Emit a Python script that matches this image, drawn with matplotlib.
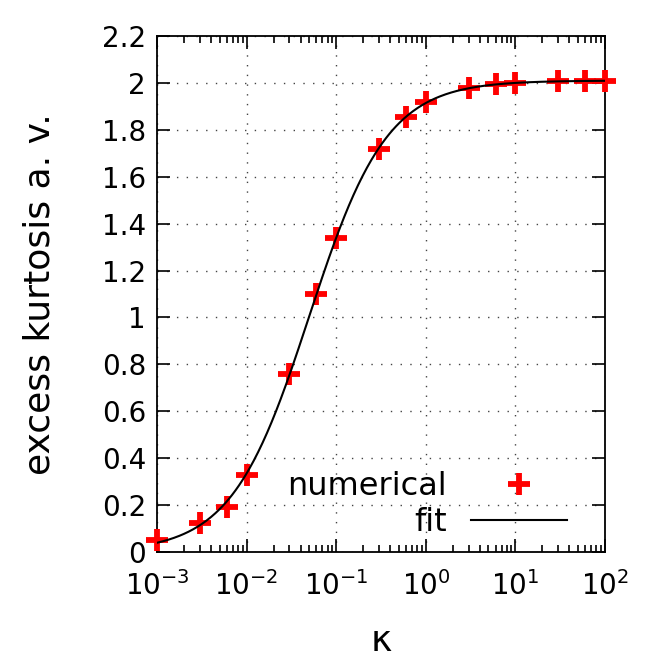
import numpy as np
import matplotlib
matplotlib.use("Agg")
import matplotlib.pyplot as plt
from matplotlib.ticker import LogLocator, FixedLocator, NullFormatter

# numerical data
kappa = [1e-3, 3e-3, 6e-3, 1e-2, 3e-2, 6e-2, 1e-1, 3e-1, 6e-1, 1.0, 3.0, 6.0, 10.0, 30.0, 60.0, 100.0]
kurtosis = [0.05, 0.124, 0.19, 0.33, 0.76, 1.10, 1.34, 1.72, 1.855, 1.92, 1.98, 1.995, 2.0, 2.01, 2.01, 2.01]

# fit parameters (saturating form a*k/(k+k0))
fit_amp = 2.01
fit_k0 = 0.05

y_ticks = [0, 0.2, 0.4, 0.6, 0.8, 1, 1.2, 1.4, 1.6, 1.8, 2, 2.2]
y_ticklabels = ["0", "0.2", "0.4", "0.6", "0.8", "1", "1.2", "1.4", "1.6", "1.8", "2", "2.2"]
x_ticks = [1e-3, 1e-2, 1e-1, 1e0, 1e1, 1e2]
x_ticklabels = [r"$10^{-3}$", r"$10^{-2}$", r"$10^{-1}$", r"$10^{0}$", r"$10^{1}$", r"$10^{2}$"]

plt.rcParams["font.family"] = "DejaVu Sans"
plt.rcParams["mathtext.fontset"] = "dejavusans"

fig = plt.figure(figsize=(6.64, 6.64), dpi=100)
ax = fig.add_axes([157 / 664, 1 - 552 / 664, 448 / 664, 516 / 664])

k_fit = np.logspace(-3, 2, 400)
y_fit = fit_amp * k_fit / (k_fit + fit_k0)

ax.plot(kappa, kurtosis, linestyle="none", marker="+", markersize=16,
        markeredgewidth=4.2, color="#ff0000", label="numerical", zorder=3, clip_on=False)
ax.plot(k_fit, y_fit, color="black", linewidth=1.5, label="fit", zorder=4)

ax.set_xscale("log")
ax.set_xlim(1e-3, 1e2)
ax.set_ylim(0, 2.2)

ax.xaxis.set_major_locator(FixedLocator(x_ticks))
ax.set_xticklabels(x_ticklabels)
ax.xaxis.set_minor_locator(LogLocator(base=10, subs=np.arange(2, 10)))
ax.xaxis.set_minor_formatter(NullFormatter())
ax.set_yticks(y_ticks)
ax.set_yticklabels(y_ticklabels)

ax.tick_params(which="both", direction="in", top=True, right=True, labelsize=20, width=1.2, colors="black")
ax.tick_params(which="major", length=9.5)
ax.tick_params(which="minor", length=5)
ax.tick_params(axis="x", which="major", pad=14)
ax.tick_params(axis="y", which="major", pad=8)
for sp in ax.spines.values():
    sp.set_linewidth(1.3)

ax.grid(True, which="major", linestyle=(0, (1, 6)), color="#444444", linewidth=1.0)

ax.set_xlabel("κ", fontsize=26)
ax.xaxis.set_label_coords(0.5, -0.14)
ax.set_ylabel("excess kurtosis a. v.", fontsize=26)
ax.yaxis.set_label_coords(-0.225, 0.5)

leg = ax.legend(loc="lower right", bbox_to_anchor=(0.915, 0.027), frameon=False, markerfirst=False,
                fontsize=23, handlelength=3.0, handletextpad=0.75, labelspacing=0.15, borderpad=0,
                borderaxespad=0)

fig.savefig("out.png", dpi=100)
